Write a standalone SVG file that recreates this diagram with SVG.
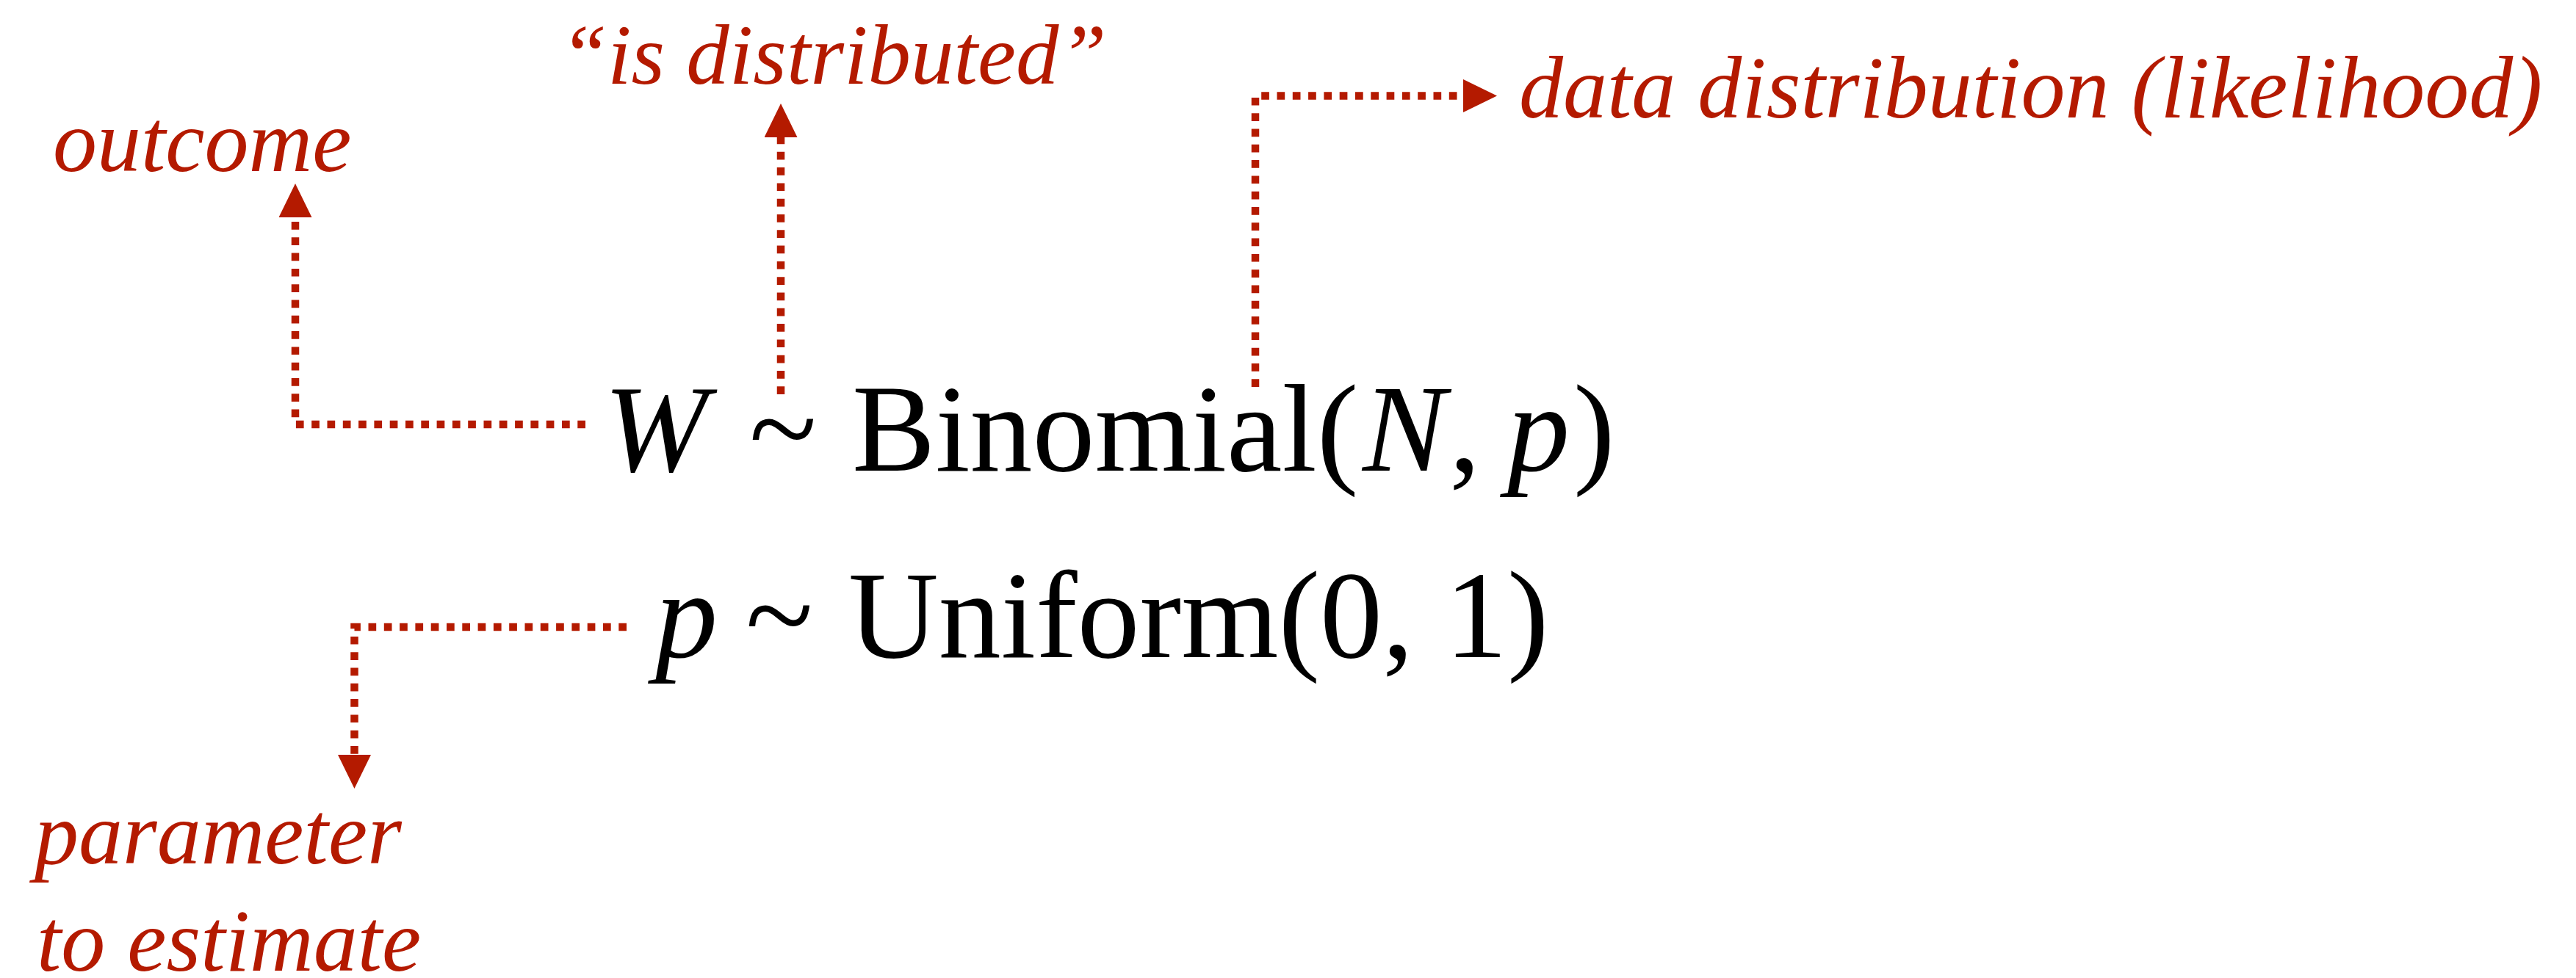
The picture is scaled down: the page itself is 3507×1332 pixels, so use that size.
<svg xmlns="http://www.w3.org/2000/svg" width="3507" height="1332" viewBox="0 0 3507 1332">
<style>
.lbl{font-family:"Liberation Serif","Times New Roman",serif;font-style:italic;font-size:120px;fill:#b41a00}
.eq{font-family:"Liberation Serif","Times New Roman",serif;font-size:170px;fill:#000}
.it{font-style:italic}
.conn{fill:none;stroke:#b41a00;stroke-width:10.5;stroke-dasharray:10.7 10.6;stroke-linecap:butt}
</style>
<defs>
<marker id="ah" markerUnits="userSpaceOnUse" markerWidth="46" markerHeight="45" viewBox="0 0 45 44" refX="0" refY="22" orient="auto">
<path d="M0,0 L45,22 L0,44 z" fill="#b41a00"/>
</marker>
</defs>
<rect width="3507" height="1332" fill="#fff"/>
<g id="connectors">
<path class="conn" d="M797,578 H402 V296" marker-end="url(#ah)"/>
<path class="conn" d="M1063,537 V187" marker-end="url(#ah)"/>
<path class="conn" d="M1709,527 V130.5 H1992" marker-end="url(#ah)"/>
<path class="conn" d="M853,854 H482.5 V1028" marker-end="url(#ah)"/>
</g>
<g id="eq-likelihood">
<text class="eq" y="641"><tspan class="it" x="822">W</tspan><tspan x="1020">~</tspan><tspan x="1160">Binomial(</tspan><tspan class="it" x="1855">N</tspan><tspan x="1973">,</tspan><tspan class="it" x="2052">p</tspan><tspan x="2142">)</tspan></text>
</g>
<g id="eq-prior">
<text class="eq" y="895"><tspan class="it" x="892">p</tspan><tspan x="1015">~</tspan><tspan x="1155">Uniform(0, 1)</tspan></text>
</g>
<g id="label-outcome"><text class="lbl" x="72" y="233">outcome</text></g>
<g id="label-distributed"><text class="lbl" x="762" y="114" style="font-size:117px">“is distributed”</text></g>
<g id="label-likelihood"><text class="lbl" x="2068" y="160">data distribution (likelihood)</text></g>
<g id="label-parameter"><text class="lbl" x="47" y="1176">parameter</text><text class="lbl" x="50" y="1322">to estimate</text></g>
</svg>
